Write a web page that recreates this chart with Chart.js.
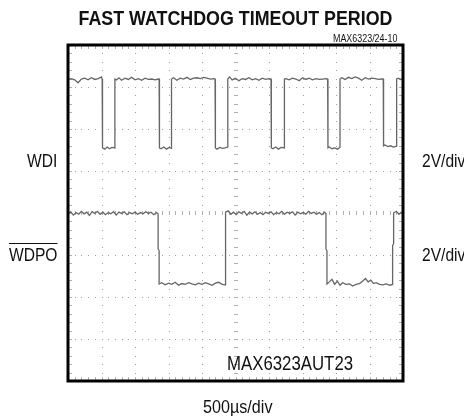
<!DOCTYPE html>
<html lang="en">
<head>
  <meta charset="UTF-8" />
  <title>Fast Watchdog Timeout Period</title>
  <script src="https://cdn.jsdelivr.net/npm/chart.js@4.4.0/dist/chart.umd.min.js"></script>
  <style>
    body { margin: 0; background: #fff; }
    #wrap { position: relative; width: 464px; height: 416px; font-family: 'Liberation Sans', Arial, sans-serif; color: #111; }
    #wrap canvas { position: absolute; left: 0; top: 0; }
    /* no narrow face installed, so squeeze the normal one */
    .lbl { position: absolute; white-space: nowrap; line-height: 1; transform-origin: 0 50%; transform: scaleX(0.82); }
    .title { font-weight: bold; font-size: 21px; left: 0; width: 471px; text-align: center; top: 7px; transform-origin: 235.5px 50%; transform: scaleX(0.85); }
    .code { font-size: 11px; left: 333px; top: 33px; transform: scaleX(0.81); }
    .side { font-size: 19px; }
    .over { text-decoration: overline; }
  </style>
</head>
<body>
  <div id="wrap">
    <canvas id="scope" width="464" height="416"></canvas>
    <div class="lbl title">FAST WATCHDOG TIMEOUT PERIOD</div>
    <div class="lbl code">MAX6323/24-10</div>
    <div class="lbl side" style="left:27px; top:151px;">WDI</div>
    <div class="lbl side" style="left:422px; top:151px;">2V/div</div>
    <div class="lbl side over" style="left:9px; top:245px;">WDPO</div>
    <div class="lbl side" style="left:422px; top:245px;">2V/div</div>
    <div class="lbl side" style="left:227px; top:353px; font-size:20px; transform:scaleX(0.84);">MAX6323AUT23</div>
    <div class="lbl side" style="left:203px; top:397px; transform:scaleX(0.85);">500µs/div</div>
  </div>
  <script>
    // time in divisions (500us/div), level in divisions (2V/div), center = 0
    const wdiTime = [
      0, 0.1, 0.2, 0.3, 0.4, 0.5, 0.6, 0.7, 0.8, 0.9, 1.0, 1.02,
      1.03, 1.1, 1.17, 1.24, 1.31, 1.40,
      1.40, 1.45, 1.52, 1.6, 1.7, 1.8, 1.9, 2.0, 2.1, 2.2, 2.3, 2.4, 2.5, 2.6, 2.7, 2.72,
      2.73, 2.78, 2.86, 2.94, 3.02, 3.09,
      3.09, 3.15, 3.25, 3.35, 3.45, 3.55, 3.65, 3.75, 3.85, 3.95, 4.05, 4.15, 4.25, 4.35, 4.39,
      4.40, 4.45, 4.53, 4.61, 4.69, 4.77,
      4.77, 4.82, 4.9, 5.0, 5.1, 5.2, 5.3, 5.4, 5.5, 5.6, 5.7, 5.8, 5.9, 6.0, 6.06,
      6.07, 6.12, 6.2, 6.28, 6.36, 6.46,
      6.46, 6.5, 6.6, 6.7, 6.8, 6.9, 7.0, 7.1, 7.2, 7.3, 7.4, 7.5, 7.6, 7.7, 7.75,
      7.76, 7.8, 7.88, 7.96, 8.04, 8.12,
      8.12, 8.17, 8.27, 8.37, 8.47, 8.57, 8.67, 8.77, 8.87, 8.97, 9.07, 9.17, 9.27, 9.37, 9.41,
      9.42, 9.46, 9.55, 9.63, 9.71, 9.81,
      9.81, 9.86, 9.93, 10
    ];
    const wdiLevel = [
      3.18, 3.20, 3.17, 3.10, 3.19, 3.21, 3.17, 3.22, 3.18, 3.20, 3.24, 3.19,
      1.55, 1.52, 1.57, 1.53, 1.56, 1.55,
      3.19, 3.17, 3.22, 3.16, 3.21, 3.18, 3.23, 3.17, 3.20, 3.16, 3.21, 3.18, 3.19, 3.17, 3.19, 3.19,
      1.55, 1.53, 1.57, 1.52, 1.56, 1.54,
      3.19, 3.22, 3.16, 3.21, 3.19, 3.23, 3.18, 3.21, 3.22, 3.20, 3.23, 3.21, 3.19, 3.20, 3.19,
      1.55, 1.52, 1.56, 1.54, 1.55, 1.57,
      3.19, 3.24, 3.17, 3.21, 3.15, 3.20, 3.18, 3.22, 3.17, 3.20, 3.16, 3.21, 3.18, 3.20, 3.19,
      1.55, 1.53, 1.57, 1.52, 1.56, 1.55,
      3.19, 3.20, 3.17, 3.21, 3.19, 3.15, 3.22, 3.18, 3.21, 3.17, 3.20, 3.18, 3.19, 3.20, 3.19,
      1.55, 1.57, 1.53, 1.55, 1.52, 1.56,
      3.19, 3.22, 3.18, 3.23, 3.20, 3.24, 3.21, 3.16, 3.22, 3.19, 3.21, 3.20, 3.18, 3.19, 3.19,
      1.60, 1.62, 1.58, 1.60, 1.57, 1.59,
      3.19, 3.21, 3.18, 3.20
    ];

    const wdpoTime = [
      0, 0.08, 0.16, 0.24, 0.32, 0.4, 0.48, 0.56, 0.64, 0.72, 0.8, 0.88, 0.96, 1.04, 1.12, 1.2, 1.28,
      1.36, 1.44, 1.52, 1.6, 1.68, 1.76, 1.84, 1.92, 2.0, 2.08, 2.16, 2.24, 2.32, 2.4, 2.48, 2.56, 2.64, 2.69,
      2.69, 2.72, 2.72,
      2.8, 2.9, 3.0, 3.1, 3.2, 3.3, 3.4, 3.5, 3.6, 3.7, 3.8, 3.9, 4.0, 4.1, 4.2, 4.3, 4.4, 4.5, 4.6, 4.69,
      4.69, 4.71, 4.71,
      4.78, 4.86, 4.94, 5.02, 5.1, 5.18, 5.26, 5.34, 5.42, 5.5, 5.58, 5.66, 5.74, 5.82, 5.9, 5.98, 6.06,
      6.14, 6.22, 6.3, 6.38, 6.46, 6.54, 6.62, 6.7, 6.78, 6.86, 6.94, 7.02, 7.1, 7.18, 7.26, 7.34, 7.42,
      7.5, 7.58, 7.66, 7.70,
      7.70, 7.73, 7.73,
      7.8, 7.88, 7.96, 8.04, 8.12, 8.2, 8.3, 8.4, 8.5, 8.6, 8.7, 8.8, 8.88, 8.96, 9.04, 9.12, 9.2, 9.3,
      9.4, 9.5, 9.6, 9.69,
      9.69, 9.72, 9.72,
      9.8, 9.88, 9.95, 10
    ];
    const wdpoLevel = [
      -0.02, 0.03, -0.05, 0.01, -0.03, 0.04, -0.02, 0.02, -0.06, 0.03, -0.01, 0.04, -0.03, 0.02, -0.04, 0.01, -0.02,
      0.03, -0.05, 0.02, -0.01, 0.03, -0.04, 0.01, -0.02, 0.02, -0.03, 0.01, -0.02, 0.03, -0.01, 0.02, -0.04, 0.01, -0.02,
      -0.85, -0.90, -1.69,
      -1.66, -1.71, -1.67, -1.70, -1.65, -1.72, -1.68, -1.70, -1.66, -1.69, -1.71, -1.67, -1.70, -1.66, -1.69, -1.72, -1.67, -1.65, -1.70, -1.71,
      -0.80, -0.75, 0.02,
      0.05, -0.03, 0.02, -0.04, 0.03, -0.01, 0.04, -0.05, 0.02, -0.02, 0.03, -0.03, 0.01, -0.04, 0.02, -0.01, 0.03,
      -0.04, 0.01, -0.02, 0.04, -0.03, 0.02, -0.01, 0.03, -0.05, 0.02, -0.02, 0.01, -0.03, 0.04, -0.01, 0.02, -0.03,
      0.01, -0.04, 0.02, -0.02,
      -0.85, -0.90, -1.69,
      -1.64, -1.58, -1.70, -1.62, -1.72, -1.66, -1.70, -1.69, -1.74, -1.70, -1.68, -1.62, -1.56, -1.64, -1.60, -1.68, -1.66, -1.70,
      -1.71, -1.69, -1.72, -1.70,
      -0.78, -0.73, 0.0,
      0.04, -0.03, 0.02, 0.0
    ];

    const xDivs = 10;
    const yDivs = 8;

    const toPoints = (t, v) => t.map((x, i) => ({ x: x, y: v[i] }));

    // oscilloscope graticule: dotted divisions, ticked centre cross, ticked frame
    const graticule = {
      id: 'graticule',
      beforeDatasetsDraw(chart) {
        const { ctx, chartArea: a, scales: { x, y } } = chart;
        ctx.save();
        ctx.fillStyle = '#a0a0a0';
        // dotted division lines
        for (let i = 1; i < xDivs; i++) {
          const px = Math.round(x.getPixelForValue(i));
          for (let s = 0; s <= yDivs * 5; s++) {
            const py = Math.round(y.getPixelForValue(-4 + s * 0.2));
            ctx.fillRect(px, py, 1, 1);
          }
        }
        for (let j = -3; j <= 3; j++) {
          const py = Math.round(y.getPixelForValue(j));
          for (let s = 0; s <= xDivs * 5; s++) {
            const px = Math.round(x.getPixelForValue(s * 0.2));
            ctx.fillRect(px, py, 1, 1);
          }
        }
        // ticks on centre cross and inside the frame
        ctx.fillStyle = '#b0b0b0';
        const cx = Math.round(x.getPixelForValue(5));
        const cy = Math.round(y.getPixelForValue(0));
        for (let s = 1; s < xDivs * 5; s++) {
          const px = Math.round(x.getPixelForValue(s * 0.2));
          ctx.fillRect(px, cy - 2, 1, 4);
          ctx.fillRect(px, a.top, 1, 4);
          ctx.fillRect(px, a.bottom - 4, 1, 4);
        }
        for (let s = 1; s < yDivs * 5; s++) {
          const py = Math.round(y.getPixelForValue(-4 + s * 0.2));
          ctx.fillRect(cx - 2, py, 4, 1);
          ctx.fillRect(a.left, py, 4, 1);
          ctx.fillRect(a.right - 4, py, 4, 1);
        }
        ctx.restore();
      },
      afterDraw(chart) {
        const { ctx, chartArea: a } = chart;
        ctx.save();
        ctx.strokeStyle = '#000';
        ctx.lineWidth = 3;
        ctx.strokeRect(a.left, a.top, a.right - a.left, a.bottom - a.top);
        ctx.restore();
      }
    };

    new Chart(document.getElementById('scope'), {
      type: 'line',
      data: {
        datasets: [
          { label: 'WDI', data: toPoints(wdiTime, wdiLevel) },
          { label: 'WDPO', data: toPoints(wdpoTime, wdpoLevel) }
        ]
      },
      options: {
        responsive: false,
        animation: false,
        layout: { padding: { left: 68, right: 61, top: 45, bottom: 35 } },
        elements: {
          line: { borderColor: '#666', borderWidth: 1.3, tension: 0 },
          point: { radius: 0 }
        },
        scales: {
          x: { type: 'linear', min: 0, max: xDivs, display: false },
          y: { type: 'linear', min: -4, max: 4, display: false }
        },
        plugins: { legend: { display: false }, tooltip: { enabled: false } }
      },
      plugins: [graticule]
    });
  </script>
</body>
</html>
